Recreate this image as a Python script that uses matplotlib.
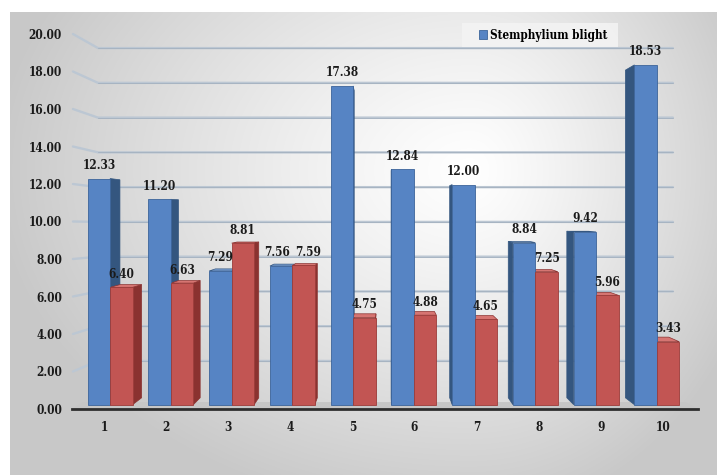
import numpy as np
import matplotlib.pyplot as plt
from matplotlib.patches import Polygon, Rectangle

# data
categories = ['1', '2', '3', '4', '5', '6', '7', '8', '9', '10']
blight = [12.33, 11.20, 7.29, 7.56, 17.38, 12.84, 12.00, 8.84, 9.42, 18.53]
series2 = [6.40, 6.63, 8.81, 7.59, 4.75, 4.88, 4.65, 7.25, 5.96, 3.43]
yticks = [0, 2, 4, 6, 8, 10, 12, 14, 16, 18, 20]

W, H = 717, 475
FONT = dict(family='DejaVu Serif', stretch='condensed', weight='bold', size=8.5)

# fake 3D: everything is pulled toward a vanishing point
VX, VY = 5.5, 10.5
FRONT, BACK = 0.022, 0.057
GRID_F, GRID_V = 0.073, 9.7
BW = 0.37


def proj(x, y, f):
    return x + f * (VX - x), y + f * (VY - y)


fig = plt.figure(figsize=(W / 100, H / 100), dpi=100)

# grey gradient panel
bg = fig.add_axes([10 / W, 0, (W - 10) / W, (H - 12) / H])
xx, yy = np.meshgrid(np.arange(10, W), np.arange(12, H))
dx = xx - 470.0
sx = np.where(dx < 0, 480.0, 300.0)
t = np.clip(np.sqrt((dx / sx) ** 2 + ((yy - 170.0) / 350.0) ** 2), 0, 1)
g = (255 - 55 * t ** 1.2) / 255
bg.imshow(np.dstack([g, g, g]), aspect='auto', interpolation='bilinear')
bg.axis('off')

ax = fig.add_axes([70 / W, (H - 409) / H, 630 / W, 375 / H])
ax.patch.set_alpha(0)
x = np.arange(1, len(categories) + 1)
ax.set_xlim(1 - 34 / 62.1, 10 + 37 / 62.1)
ax.set_ylim(0, 20)

# back-wall gridlines with a slanted piece on the left
for v in yticks[1:]:
    yb = v + GRID_F * (GRID_V - v)
    ax.plot([0.50, 0.903, 10.16], [v, yb, yb], color='#bcc7d3', lw=1.7,
            solid_capstyle='round', zorder=1, clip_on=False)
    ax.plot([0.903, 10.16], [yb, yb], color='#9eacbc', lw=0.5, zorder=1)

# floor
ax.add_patch(Polygon([(0.484, 0), (10.56, 0), (10.37, 0.37), (0.66, 0.37)],
                     closed=True, facecolor='#c6c6c6', edgecolor='none', zorder=1.5))
ax.plot([0.484, 10.56], [0, 0], color='#2e2e2e', lw=2, zorder=4, clip_on=False)

series = [
    (blight, x - BW, '#5684c4', '#34567f', '#7aa0d4', '#3c649a', 'Stemphylium blight', -1),
    (series2, x, '#c25553', '#8a3230', '#d67572', '#9c3c3a', '_series2', 1),
]
close = np.abs(np.array(blight) - np.array(series2)) < 1.0
handles = []
for vals, lefts, face, side, top, edge, name, sgn in series:
    for x0, h in zip(lefts, vals):
        x1 = x0 + BW
        xs = x1 if (x0 + x1) / 2 < VX else x0
        ax.add_patch(Polygon([proj(xs, 0, FRONT), proj(xs, h, FRONT),
                              proj(xs, h, BACK), proj(xs, 0, BACK)],
                             closed=True, facecolor=side, edgecolor=side,
                             lw=0.5, zorder=2))
        if h < VY:
            ax.add_patch(Polygon([proj(x0, h, FRONT), proj(x1, h, FRONT),
                                  proj(x1, h, BACK), proj(x0, h, BACK)],
                                 closed=True, facecolor=top, edgecolor=side,
                                 lw=0.5, zorder=2.2))
    vals = np.array(vals)
    fl = lefts + FRONT * (VX - lefts)
    bars = ax.bar(fl, vals * (1 - FRONT), width=BW * (1 - FRONT),
                  bottom=FRONT * VY, align='edge', color=face,
                  edgecolor=edge, lw=0.6, zorder=3, label=name)
    handles.append(bars)
    for xl, v, c in zip(fl, vals, close):
        ax.annotate(f'{v:.2f}', (xl + BW * (1 - FRONT) / 2, v * (1 - FRONT) + FRONT * VY),
                    xytext=(sgn * 3.2 if c else 0, 9.4), textcoords='offset points',
                    ha='center', va='center', color='#1a1a1a', zorder=5, **FONT)

ax.set_yticks(yticks)
ax.set_yticklabels([f'{v:.2f}' for v in yticks])
ax.set_xticks(x)
ax.set_xticklabels(categories)
ax.tick_params(axis='y', length=0, pad=5.8)
ax.tick_params(axis='x', length=0, pad=8.6)
for lab in ax.get_xticklabels() + ax.get_yticklabels():
    lab.set_fontfamily(FONT['family'])
    lab.set_fontstretch(FONT['stretch'])
    lab.set_fontweight('bold')
    lab.set_fontsize(FONT['size'])
    lab.set_color('#1a1a1a')
for s in ax.spines.values():
    s.set_visible(False)

# legend box is wider than the legend itself
ax.add_patch(Rectangle((462 / W, 1 - 47 / H), 156 / W, 24 / H,
                       transform=fig.transFigure, facecolor='#f3f3f3',
                       edgecolor='none', alpha=0.9, zorder=4.5, clip_on=False))
leg = ax.legend(handles=[handles[0]], loc='center', bbox_to_anchor=(543 / W, 1 - 35 / H),
                bbox_transform=fig.transFigure, frameon=False,
                handlelength=0.7, handleheight=0.7, handletextpad=0.25,
                borderpad=0.3, borderaxespad=0, prop=FONT)
leg.set_zorder(6)

fig.savefig('out.png', dpi=100)
